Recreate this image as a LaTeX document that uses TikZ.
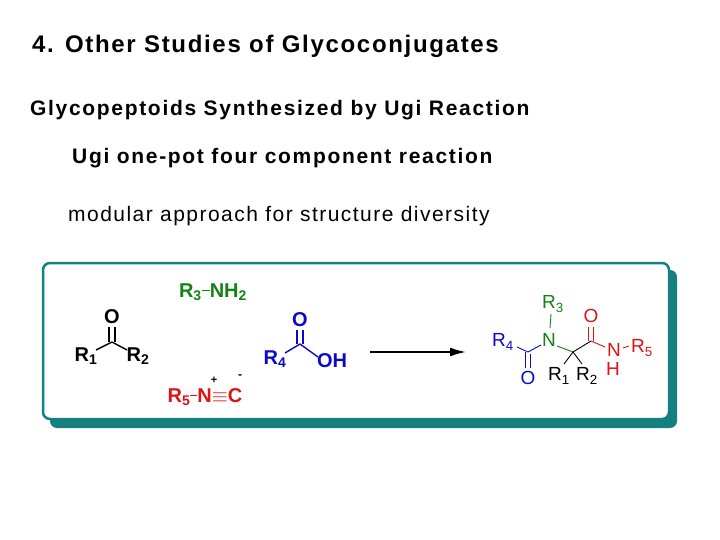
\documentclass[tikz,border=0pt]{standalone}
\usepackage{fontspec}
\usetikzlibrary{arrows.meta}
\setmainfont{Liberation Sans}
\begin{document}
\begin{tikzpicture}[x=1pt,y=-1pt,
  lbl/.style={inner sep=0pt,anchor=center},
  hd/.style={inner sep=0pt,anchor=west},
  bd/.style={line width=1.4pt},
  tb/.style={line width=0.9pt}]
\definecolor{teal1}{RGB}{20,128,128}
\definecolor{gr}{RGB}{20,130,20}
\definecolor{rd}{RGB}{220,20,20}
\definecolor{bl}{RGB}{10,10,200}
\useasboundingbox (0,0) rectangle (720,540);
% texts
\node[hd,font=\fontsize{24}{26}\bfseries\selectfont\addfontfeatures{LetterSpace=7}] (t1) at (32,46) {4. Other Studies of Glycoconjugates};
\node[hd,font=\fontsize{21}{24}\bfseries\selectfont\addfontfeatures{LetterSpace=8}] (t2) at (30,110) {Glycopeptoids Synthesized by Ugi Reaction};
\node[hd,font=\fontsize{21}{24}\bfseries\selectfont\addfontfeatures{LetterSpace=8}] (t3) at (72,158) {Ugi one-pot four component reaction};
\node[hd,font=\fontsize{21}{24}\selectfont\addfontfeatures{LetterSpace=7}] (t4) at (68,216) {modular approach for structure diversity};
% box
\fill[teal1,rounded corners=7pt] (50,270) rectangle (677,428);
\draw[teal1,line width=2.5pt,fill=white,rounded corners=7pt] (43,263) rectangle (669,419);
% ketone
\begin{scope}[font=\bfseries\fontsize{20}{22}\selectfont]
\node[lbl] (ko) at (112,317) {O};
\coordinate (kc) at (112,342);
\node[lbl] (r1) at (86,356) {R\textsubscript{1}};
\node[lbl] (r2) at (138,356) {R\textsubscript{2}};
\draw[bd] (109,327) -- (109,342) (115,327) -- (115,342);
\draw[bd] (kc) -- (96,350) (kc) -- (127,350);
% amine
\node[lbl,text=gr] (am) at (213,292) {R\textsubscript{3}\rule[0.3em]{8pt}{1.4pt}NH\textsubscript{2}};
% isocyanide
\node[lbl,text=rd] (iso) at (205,397) {R\textsubscript{5}\rule[0.3em]{7pt}{1.4pt}N$\equiv$C};
\node[lbl,text=black,font=\bfseries\fontsize{11}{12}\selectfont] (pl) at (214,380) {+};
\node[lbl,text=black,font=\bfseries\fontsize{12}{12}\selectfont] (mi) at (240,377) {-};
% acid
\node[lbl,text=bl] (ao) at (300,320) {O};
\coordinate (ac) at (300,344);
\node[lbl,text=bl] (r4) at (275,359) {R\textsubscript{4}};
\node[lbl,text=bl] (oh) at (332,361) {OH};
\draw[bd,bl] (297,330) -- (297,344) (303,330) -- (303,344);
\draw[bd,bl] (ac) -- (285,353) (ac) -- (318,357);
\end{scope}
% arrow
\coordinate (a1) at (370,352);
\coordinate (a2) at (466,352);
\draw[line width=1.8pt,-{Latex[length=16pt,width=9pt]}] (a1) -- (a2);
% product
\begin{scope}[font=\fontsize{19}{20}\selectfont]
\node[lbl,text=bl] (pr4) at (503,342) {R\textsubscript{4}};
\coordinate (pc1) at (528,352);
\node[lbl,text=bl] (po1) at (528,378) {O};
\node[lbl,text=gr] (pn) at (549,340) {N};
\node[lbl,text=gr] (pr3) at (553,304) {R\textsubscript{3}};
\coordinate (pq) at (573,352);
\node[lbl] (pr1) at (559,376) {R\textsubscript{1}};
\node[lbl] (pr2) at (587,376) {R\textsubscript{2}};
\coordinate (pc2) at (591,341);
\node[lbl,text=rd] (po2) at (591,316) {O};
\node[lbl,text=rd] (pn2) at (614,350) {N};
\node[lbl,text=rd] (ph) at (613,369) {H};
\node[lbl,text=rd] (pr5) at (642,348) {R\textsubscript{5}};
\draw[tb,bl] (517,347) -- (pc1);
\draw[tb,bl] (525.5,352) -- (525.5,368) (530.5,354) -- (530.5,368);
\draw[tb,bl] (pc1) -- (541,345);
\draw[tb,gr] (551,314) -- (550,328);
\draw[tb,gr] (557,346) -- (pq);
\draw[tb] (pq) -- (pc2);
\draw[tb] (pq) -- (564,364) (pq) -- (582,364);
\draw[tb,rd] (588.5,327) -- (588.5,341) (593.5,327) -- (593.5,341);
\draw[tb,rd] (pc2) -- (605,347);
\draw[tb,rd] (623,348) -- (629,346);
\end{scope}
\end{tikzpicture}
\end{document}
